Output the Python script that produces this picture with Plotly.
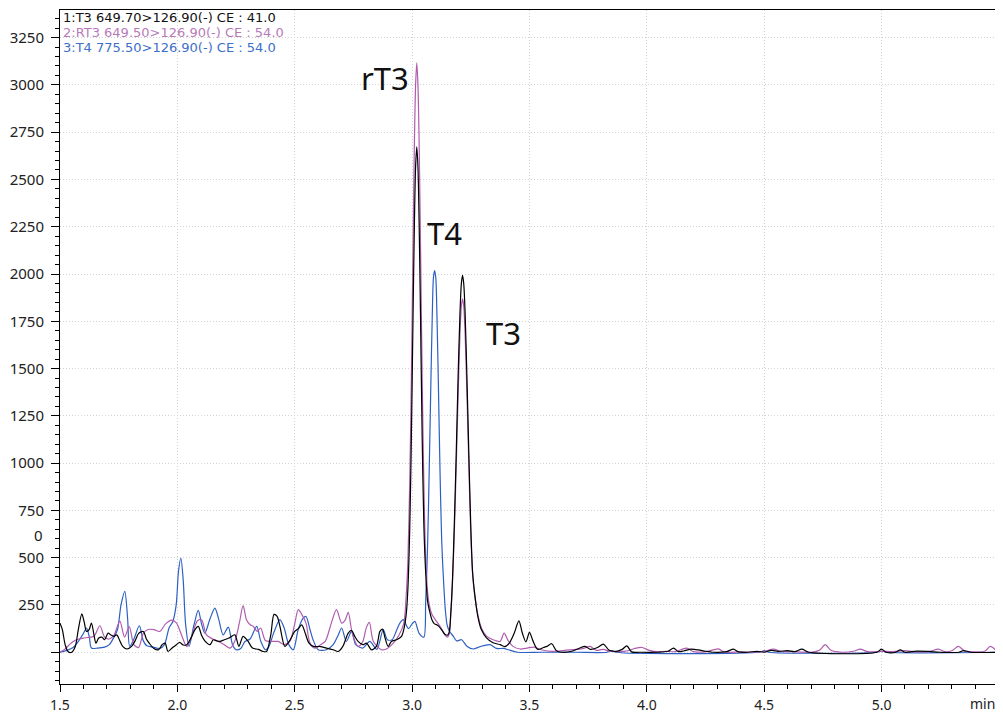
import plotly.graph_objects as go

# ---------------- data ----------------
# 1: T3 649.70>126.90(-)  (black)
t1 = [1.500,1.510,1.522,1.535,1.550,1.565,1.578,1.593,1.603,1.613,1.624,1.634,1.645,1.653,1.665,1.678,1.690,1.705,1.718,1.730,
      1.742,1.755,1.767,1.785,1.805,1.820,1.835,1.855,1.868,1.880,1.900,1.920,1.935,1.948,1.960,1.980,1.996,2.010,2.025,2.040,
      2.060,2.075,2.089,2.103,2.117,2.139,2.153,2.167,2.181,2.200,2.220,2.245,2.262,2.280,2.300,2.320,2.345,2.365,2.380,2.398,
      2.412,2.425,2.437,2.458,2.478,2.500,2.515,2.530,2.545,2.560,2.580,2.610,2.635,2.664,2.685,2.705,2.728,2.742,2.756,2.770,
      2.790,2.806,2.827,2.848,2.863,2.874,2.885,2.898,2.912,2.934,2.955,2.966,
      2.975,2.982,2.990,2.997,3.004,3.010,3.015,3.020,3.025,3.030,3.036,3.043,3.050,3.058,3.066,3.075,3.085,3.095,3.105,3.115,
      3.128,3.140,3.150,3.158,3.165,3.172,3.180,3.188,3.196,3.204,3.210,3.215,3.220,3.226,3.234,3.242,3.250,3.258,3.268,3.280,
      3.295,3.318,3.345,3.375,3.395,3.415,3.435,3.455,3.470,3.485,3.500,3.515,3.535,3.560,3.575,3.595,3.615,3.640,3.680,3.710,
      3.737,3.760,3.790,3.815,3.840,3.870,3.895,3.915,3.935,3.970,4.050,4.090,4.114,4.135,4.160,4.190,4.220,4.250,4.280,4.340,
      4.369,4.390,4.430,4.470,4.500,4.530,4.560,4.600,4.630,4.661,4.690,4.980,5.000,5.020,5.060,5.080,5.100,5.150,5.200,5.250,
      5.330,5.350,5.380,5.492]
y1 = [154,120,40,2,0,30,120,203,160,110,120,154,90,48,75,80,66,101,90,84,
      92,60,31,17,31,60,100,110,70,48,20,13,40,48,4,25,40,52,38,40,
      80,120,137,90,60,40,66,60,57,66,75,92,31,84,60,22,15,4,4,92,
      200,190,137,31,60,110,125,145,100,50,31,30,22,13,4,31,101,115,84,57,
      40,48,13,31,110,122,75,31,57,66,84,128,
      200,330,650,1140,1770,2275,2567,2673,2567,2275,1770,1140,680,420,270,215,170,150,145,135,
      115,95,90,105,210,380,680,1050,1450,1790,1950,1993,1950,1790,1440,1040,670,420,295,190,
      120,75,50,40,30,50,100,166,100,55,105,60,15,25,31,45,8,0,5,20,
      31,15,25,43,10,5,15,34,2,0,0,5,22,3,8,16,12,5,0,3,
      16,2,0,5,0,10,5,8,3,16,0,0,16,0,0,12,0,6,4,0,
      0,9,0,0]

# 2: RT3 649.50>126.90(-)  (purple)
t2 = [1.500,1.520,1.540,1.556,1.580,1.599,1.620,1.645,1.670,1.690,1.710,1.730,1.755,1.775,1.795,1.815,1.835,1.855,1.875,1.900,
      1.925,1.950,1.975,1.996,2.015,2.040,2.060,2.085,2.103,2.124,2.150,2.175,2.200,2.224,2.245,2.265,2.280,2.295,2.310,2.323,
      2.340,2.355,2.375,2.400,2.430,2.455,2.480,2.500,2.515,2.530,2.548,2.565,2.585,2.610,2.630,2.655,2.678,2.700,2.715,2.728,
      2.745,2.770,2.790,2.805,2.818,2.835,2.869,2.890,2.920,2.945,2.965,
      2.975,2.982,2.990,2.997,3.004,3.010,3.015,3.020,3.025,3.030,3.036,3.043,3.050,3.058,3.066,3.075,3.085,3.100,3.112,3.125,
      3.140,3.150,3.158,3.165,3.172,3.180,3.188,3.196,3.204,3.210,3.215,3.220,3.226,3.234,3.242,3.250,3.258,3.268,3.280,3.295,
      3.318,3.345,3.375,3.392,3.410,3.430,3.460,3.490,3.520,3.550,3.600,3.650,3.700,3.730,3.758,3.785,3.815,3.840,3.880,3.920,
      3.950,3.980,4.010,4.040,4.080,4.120,4.170,4.200,4.250,4.305,4.330,4.400,4.450,4.500,4.540,4.570,4.620,4.700,4.735,4.760,
      4.785,4.830,4.880,4.910,4.940,5.000,5.050,5.100,5.150,5.200,5.243,5.270,5.300,5.328,5.355,5.400,5.440,5.463,5.492]
y2 = [0,15,40,57,70,75,78,84,140,80,70,90,165,80,135,40,25,100,120,120,
      110,150,170,155,100,30,80,165,172,92,70,57,40,22,60,160,246,170,145,137,
      110,128,62,57,57,40,60,150,225,200,154,48,22,40,57,150,225,154,170,211,
      101,31,57,130,158,57,13,17,48,92,154,
      300,480,900,1450,2150,2700,3000,3117,3000,2700,2150,1450,900,500,320,240,200,170,150,125,
      90,80,95,200,360,630,980,1350,1680,1830,1868,1830,1680,1350,980,630,410,290,200,130,
      84,66,57,101,60,31,17,22,27,13,4,10,15,20,31,10,15,5,3,8,
      20,25,10,3,5,3,22,3,2,18,0,2,0,5,16,5,3,0,10,40,
      10,0,5,16,3,5,3,8,2,3,16,3,8,31,5,2,5,31,5]

# 3: T4 775.50>126.90(-)  (blue)
t3 = [1.500,1.530,1.556,1.580,1.600,1.613,1.625,1.634,1.660,1.690,1.710,1.730,1.745,1.760,1.776,1.788,1.797,1.815,1.838,1.855,
      1.870,1.897,1.925,1.945,1.965,1.980,1.995,2.005,2.015,2.025,2.035,2.050,2.070,2.089,2.103,2.117,2.140,2.160,2.175,2.195,
      2.217,2.235,2.250,2.270,2.288,2.310,2.338,2.355,2.375,2.390,2.410,2.437,2.455,2.475,2.494,2.515,2.536,2.548,2.565,2.580,
      2.600,2.635,2.664,2.685,2.700,2.720,2.742,2.760,2.790,2.820,2.850,2.877,2.895,2.915,2.935,2.948,2.962,2.985,3.000,3.012,
      3.030,3.050,
      3.058,3.066,3.073,3.080,3.086,3.091,3.096,3.101,3.106,3.112,3.119,3.126,3.134,3.142,3.150,3.160,3.176,3.190,3.211,3.235,
      3.261,3.290,3.332,3.360,3.390,3.410,3.450,3.550,3.700,3.830,3.850,3.870,4.480,4.500,4.520,4.980,5.000,5.020,5.492]
y3 = [0,10,25,60,100,128,80,22,22,27,40,80,120,250,322,180,31,70,140,60,
      34,27,20,40,130,160,250,430,497,380,150,31,140,221,150,101,180,233,180,92,
      133,40,13,20,57,70,137,60,13,30,101,172,128,40,13,120,180,189,120,60,
      13,13,40,90,128,57,110,40,22,57,15,119,66,66,119,154,172,125,150,163,
      100,80,
      270,560,960,1420,1780,1980,2018,1980,1780,1420,960,600,380,220,140,110,84,60,66,30,
      17,30,40,20,20,13,0,0,0,0,9,0,0,8,0,0,6,0,0]

series_names = ["1:T3 649.70>126.90(-) CE : 41.0",
                "2:RT3 649.50>126.90(-) CE : 54.0",
                "3:T4 775.50>126.90(-) CE : 54.0"]
line_colors = ["#000000", "#b05cb0", "#2d5fc2"]
text_colors = ["#111111", "#b97ab9", "#3d6ec8"]

peak_labels = ["rT3", "T4", "T3"]
peak_label_t = [2.884, 3.137, 3.388]
peak_label_y = [3036, 2217, 1689]

x_tickvals = [1.5, 2.0, 2.5, 3.0, 3.5, 4.0, 4.5, 5.0]
x_ticktext = ["1.5", "2.0", "2.5", "3.0", "3.5", "4.0", "4.5", "5.0"]
y_tickvals = [0, 250, 500, 750, 1000, 1250, 1500, 1750, 2000, 2250, 2500, 2750, 3000, 3250]
y_ticktext = ["", "250", "500", "750", "1000", "1250", "1500", "1750", "2000", "2250", "2500", "2750", "3000", "3250"]

FONT = "Noto Sans"
GRID = "#d2d2d2"

fig = go.Figure()
for t, y, c, n in [(t3, y3, line_colors[2], series_names[2]),
                   (t2, y2, line_colors[1], series_names[1]),
                   (t1, y1, line_colors[0], series_names[0])]:
    fig.add_trace(go.Scatter(x=t, y=y, mode="lines", name=n,
                             line=dict(color=c, width=1.2, shape="spline", smoothing=0.8),
                             hoverinfo="skip"))

# channel descriptions (top-left, inside plot)
for i, (txt, col) in enumerate(zip(series_names, text_colors)):
    fig.add_annotation(text=txt, xref="paper", yref="paper", x=0, y=1,
                       xanchor="left", yanchor="middle", xshift=1, yshift=-7 - 15 * i,
                       showarrow=False, font=dict(family="DejaVu Sans", size=13, color=col))

# peak labels
for lab, lt, ly in zip(peak_labels, peak_label_t, peak_label_y):
    fig.add_annotation(text=lab, x=lt, y=ly, xref="x", yref="y", showarrow=False,
                       xanchor="center", yanchor="middle",
                       font=dict(family=FONT, size=31, color="#111111"))

# stray "0" label on the y axis and the "min" unit label
fig.add_annotation(text="0", xref="paper", yref="y", x=0, y=621, xanchor="right", yanchor="middle",
                   xshift=-15, showarrow=False, font=dict(family=FONT, size=15, color="#222222"))
fig.add_annotation(text="min", xref="paper", yref="paper", x=1, y=0, xanchor="right", yanchor="middle",
                   yshift=-19, showarrow=False, font=dict(family=FONT, size=14, color="#222222"))

fig.update_xaxes(range=[1.5, 5.492], tickmode="array", tickvals=x_tickvals, ticktext=x_ticktext,
                 ticks="outside", ticklen=7, tickcolor="black", tickwidth=1, ticklabelstandoff=1,
                 showline=True, linecolor="black", linewidth=1, mirror=True, automargin=False,
                 showgrid=True, gridcolor=GRID, griddash="1px,2px", gridwidth=1, zeroline=False,
                 minor=dict(dtick=0.1, tick0=1.5, ticks="outside", ticklen=4, tickcolor="black", showgrid=False),
                 tickfont=dict(family=FONT, size=14, color="#222222"))
fig.update_yaxes(range=[-168, 3396], tickmode="array", tickvals=y_tickvals, ticktext=y_ticktext,
                 ticks="outside", ticklen=8, tickcolor="black", tickwidth=1, ticklabelstandoff=4,
                 showline=True, linecolor="black", linewidth=1, mirror=True, automargin=False,
                 showgrid=True, gridcolor=GRID, griddash="1px,2px", gridwidth=1, zeroline=False,
                 minor=dict(dtick=50, tick0=0, ticks="outside", ticklen=4, tickcolor="black", showgrid=False),
                 tickfont=dict(family=FONT, size=15, color="#222222"))

# the page body adds an 8px offset, so the figure is sized to fill the 1003x714 window exactly
fig.update_layout(width=995, height=706, margin=dict(l=52, r=6, t=2, b=30),
                  plot_bgcolor="white", paper_bgcolor="white", showlegend=False,
                  font=dict(family=FONT))

fig.write_html("out.html")
